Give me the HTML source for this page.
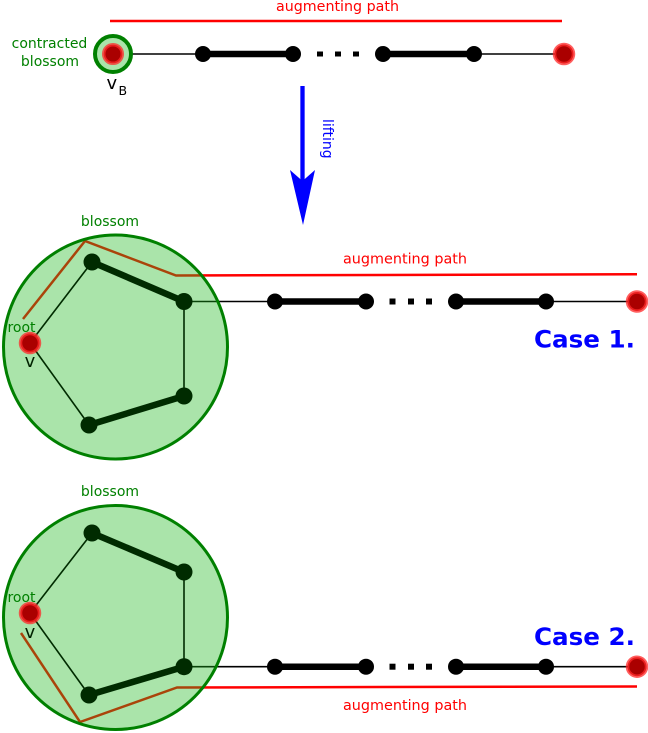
<!DOCTYPE html>
<html>
<head>
<meta charset="utf-8">
<style>
html,body{margin:0;padding:0;background:#fff;}
svg{display:block;}
text{font-family:"DejaVu Sans","Liberation Sans",sans-serif;}
</style>
</head>
<body>
<svg width="648" height="733" viewBox="0 0 648 733" xmlns="http://www.w3.org/2000/svg">
  <!-- ===== TOP ROW ===== -->
  <text x="337.5" y="11" font-size="14" fill="#ff0000" text-anchor="middle" textLength="123" lengthAdjust="spacingAndGlyphs">augmenting path</text>
  <line x1="110" y1="21" x2="562" y2="21" stroke="#ff0000" stroke-width="2.5"/>

  <text x="49.5" y="48" font-size="14" fill="#008000" text-anchor="middle">contracted</text>
  <text x="50" y="66" font-size="14" fill="#008000" text-anchor="middle">blossom</text>

  <line x1="113" y1="54" x2="203" y2="54" stroke="#000" stroke-width="1.6"/>
  <line x1="203" y1="54" x2="293" y2="54" stroke="#000" stroke-width="6.5"/>
  <line x1="383" y1="54" x2="474" y2="54" stroke="#000" stroke-width="6.5"/>
  <line x1="474" y1="54" x2="564" y2="54" stroke="#000" stroke-width="1.6"/>

  <circle cx="113" cy="54" r="18" fill="#aae4aa" stroke="#008000" stroke-width="4"/>
  <circle cx="113" cy="54" r="9.3" fill="#aa0000" stroke="#ff2828" stroke-opacity="0.75" stroke-width="3.5"/>

  <circle cx="203" cy="54" r="8" fill="#000"/>
  <circle cx="293" cy="54" r="8" fill="#000"/>
  <circle cx="383" cy="54" r="8" fill="#000"/>
  <circle cx="474" cy="54" r="8" fill="#000"/>
  <rect x="317" y="51.5" width="6" height="5" fill="#000"/>
  <rect x="335" y="51.5" width="6" height="5" fill="#000"/>
  <rect x="353" y="51.5" width="6" height="5" fill="#000"/>
  <circle cx="564" cy="54" r="9.5" fill="#aa0000" stroke="#ff2828" stroke-opacity="0.75" stroke-width="3.5"/>

  <text x="106.5" y="89" font-size="18" fill="#000">v</text>
  <text x="118.5" y="95" font-size="12.5" fill="#000">B</text>

  <!-- arrow -->
  <line x1="302.5" y1="86" x2="302.5" y2="182" stroke="#0000ff" stroke-width="4.3"/>
  <polygon points="290,170 302.5,181 315,170 303,225" fill="#0000ff"/>
  <text transform="translate(323,119) rotate(90)" font-size="14" fill="#0000ff">lifting</text>

  <!-- ===== CASE 1 ===== -->
  <text x="110" y="226" font-size="14" fill="#008000" text-anchor="middle">blossom</text>
  <text x="405" y="263.5" font-size="14" fill="#ff0000" text-anchor="middle" textLength="124" lengthAdjust="spacingAndGlyphs">augmenting path</text>

  <polyline points="23,319 85,241 176,275.5 637,274.3" fill="none" stroke="#ff0000" stroke-width="2.5"/>
  <line x1="184" y1="301.5" x2="275" y2="301.5" stroke="#000" stroke-width="1.6"/>
  <circle cx="115.5" cy="347" r="112" fill="#1bb61b" fill-opacity="0.373" stroke="#008000" stroke-width="3"/>

  <line x1="30" y1="343" x2="92" y2="262" stroke="#002b00" stroke-width="1.6"/>
  <line x1="92" y1="262" x2="184" y2="301.5" stroke="#002b00" stroke-width="6.5"/>
  <line x1="184" y1="301.5" x2="184" y2="396" stroke="#002b00" stroke-width="1.6"/>
  <line x1="184" y1="396" x2="89" y2="425" stroke="#002b00" stroke-width="6.5"/>
  <line x1="89" y1="425" x2="30" y2="343" stroke="#002b00" stroke-width="1.6"/>

  <circle cx="92" cy="262" r="8.5" fill="#002b00"/>
  <circle cx="184" cy="301.5" r="8.5" fill="#002b00"/>
  <circle cx="184" cy="396" r="8.5" fill="#002b00"/>
  <circle cx="89" cy="425" r="8.5" fill="#002b00"/>
  <circle cx="30" cy="343" r="9.5" fill="#aa0000" stroke="#ff2828" stroke-opacity="0.75" stroke-width="3.5"/>
  <text x="21.5" y="332" font-size="14" fill="#008000" text-anchor="middle">root</text>
  <text x="30" y="367" font-size="18" fill="#002200" text-anchor="middle">v</text>

  <line x1="275" y1="301.5" x2="366" y2="301.5" stroke="#000" stroke-width="6.5"/>
  <line x1="456" y1="301.5" x2="546" y2="301.5" stroke="#000" stroke-width="6.5"/>
  <line x1="546" y1="301.5" x2="637" y2="301.5" stroke="#000" stroke-width="1.6"/>
  <circle cx="275" cy="301.5" r="8" fill="#000"/>
  <circle cx="366" cy="301.5" r="8" fill="#000"/>
  <circle cx="456" cy="301.5" r="8" fill="#000"/>
  <circle cx="546" cy="301.5" r="8" fill="#000"/>
  <rect x="389.5" y="298.5" width="6" height="6" fill="#000"/>
  <rect x="408" y="298.5" width="6" height="6" fill="#000"/>
  <rect x="426" y="298.5" width="6" height="6" fill="#000"/>
  <circle cx="637" cy="301.5" r="9.5" fill="#aa0000" stroke="#ff2828" stroke-opacity="0.75" stroke-width="3.5"/>

  <text x="534" y="347.5" font-size="24" font-weight="bold" fill="#0000ff" textLength="101" lengthAdjust="spacingAndGlyphs">Case 1.</text>

  <!-- ===== CASE 2 ===== -->
  <text x="110" y="496" font-size="14" fill="#008000" text-anchor="middle">blossom</text>

  <polyline points="21,633 80,722 177,687.5 637,686.5" fill="none" stroke="#ff0000" stroke-width="2.5"/>
  <line x1="184" y1="666.7" x2="275" y2="666.7" stroke="#000" stroke-width="1.6"/>
  <circle cx="115.5" cy="617.5" r="112" fill="#1bb61b" fill-opacity="0.373" stroke="#008000" stroke-width="3"/>

  <line x1="30" y1="613" x2="92" y2="533" stroke="#002b00" stroke-width="1.6"/>
  <line x1="92" y1="533" x2="184" y2="572" stroke="#002b00" stroke-width="6.5"/>
  <line x1="184" y1="572" x2="184" y2="666.7" stroke="#002b00" stroke-width="1.6"/>
  <line x1="184" y1="666.7" x2="89" y2="695" stroke="#002b00" stroke-width="6.5"/>
  <line x1="89" y1="695" x2="30" y2="613" stroke="#002b00" stroke-width="1.6"/>

  <circle cx="92" cy="533" r="8.5" fill="#002b00"/>
  <circle cx="184" cy="572" r="8.5" fill="#002b00"/>
  <circle cx="184" cy="666.7" r="8.5" fill="#002b00"/>
  <circle cx="89" cy="695" r="8.5" fill="#002b00"/>
  <circle cx="30" cy="613" r="9.5" fill="#aa0000" stroke="#ff2828" stroke-opacity="0.75" stroke-width="3.5"/>
  <text x="21.5" y="602" font-size="14" fill="#008000" text-anchor="middle">root</text>
  <text x="30" y="638" font-size="18" fill="#002200" text-anchor="middle">v</text>

  <line x1="275" y1="666.7" x2="366" y2="666.7" stroke="#000" stroke-width="6.5"/>
  <line x1="456" y1="666.7" x2="546" y2="666.7" stroke="#000" stroke-width="6.5"/>
  <line x1="546" y1="666.7" x2="637" y2="666.7" stroke="#000" stroke-width="1.6"/>
  <circle cx="275" cy="666.7" r="8" fill="#000"/>
  <circle cx="366" cy="666.7" r="8" fill="#000"/>
  <circle cx="456" cy="666.7" r="8" fill="#000"/>
  <circle cx="546" cy="666.7" r="8" fill="#000"/>
  <rect x="389.5" y="663.7" width="6" height="6" fill="#000"/>
  <rect x="408" y="663.7" width="6" height="6" fill="#000"/>
  <rect x="426" y="663.7" width="6" height="6" fill="#000"/>
  <circle cx="637" cy="666.7" r="9.5" fill="#aa0000" stroke="#ff2828" stroke-opacity="0.75" stroke-width="3.5"/>

  <text x="405" y="710" font-size="14" fill="#ff0000" text-anchor="middle" textLength="124" lengthAdjust="spacingAndGlyphs">augmenting path</text>
  <text x="534" y="645" font-size="24" font-weight="bold" fill="#0000ff" textLength="101" lengthAdjust="spacingAndGlyphs">Case 2.</text>
</svg>
</body>
</html>
